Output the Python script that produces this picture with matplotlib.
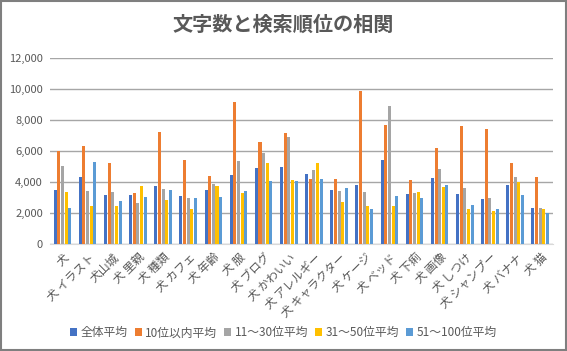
import matplotlib.pyplot as plt
import numpy as np
from matplotlib.patches import Rectangle

plt.rcParams['font.family'] = ['Noto Sans CJK JP', 'DejaVu Sans']

categories = ['犬', '犬 イラスト', '犬山城', '犬 里親', '犬 種類', '犬 カフェ', '犬 年齢', '犬 服',
              '犬 ブログ', '犬 かわいい', '犬 アレルギー', '犬 キャラクター', '犬 ケージ', '犬 ベッド',
              '犬 下痢', '犬 画像', '犬 しつけ', '犬 シャンプー', '犬 バナナ', '犬 猫']

series_names = ['全体平均', '10位以内平均', '11～30位平均', '31～50位平均', '51～100位平均']

avg_all = [3460, 4320, 3120, 3120, 3760, 3070, 3480, 4470, 4900, 4950,
           4520, 3460, 3780, 5420, 3200, 4260, 3200, 2920, 3810, 2340]
avg_top10 = [5960, 6320, 5220, 3290, 7220, 5420, 4390, 9120, 6580, 7160,
             4190, 4190, 9870, 7650, 4110, 6150, 7610, 7370, 5220, 4280]
avg_11_30 = [5050, 3420, 3350, 2640, 3550, 2990, 3870, 5310, 5870, 6860,
             4790, 3380, 3330, 8880, 3250, 4820, 3610, 2990, 4280, 2320]
avg_31_50 = [3330, 2430, 2430, 3720, 2860, 2280, 3760, 3250, 5220, 4130,
             5180, 2730, 2430, 2470, 3350, 3680, 2260, 2130, 4000, 2240]
avg_51_100 = [2340, 5290, 2770, 3030, 3480, 2950, 3050, 3420, 4040, 4040,
              4190, 3630, 2240, 3070, 2950, 3810, 2520, 2280, 3120, 2020]

series = [avg_all, avg_top10, avg_11_30, avg_31_50, avg_51_100]
colors = ['#4472C4', '#ED7D31', '#A5A5A5', '#FFC000', '#5B9BD5']

fig = plt.figure(figsize=(5.67, 3.51), dpi=100)
ax = fig.add_axes([0.088, 0.305, 0.887, 0.531])

x = np.arange(len(categories))
step = 0.145
for i, (vals, name, col) in enumerate(zip(series, series_names, colors)):
    ax.bar(x + (i - 2) * step, vals, 0.12, color=col, label=name, zorder=3)

ax.set_xlim(-0.5, len(categories) - 0.5)
ax.set_ylim(0, 12000)
ax.set_yticks(range(0, 12001, 2000))
ax.set_yticklabels([f'{v:,}' for v in range(0, 12001, 2000)], fontsize=8, color='#595959')
ax.yaxis.grid(True, color='#A6A6A6', linewidth=1, zorder=0)
ax.set_xticks(x)
ax.set_xticklabels(categories, rotation=45, ha='right', rotation_mode='anchor',
                   fontsize=8.5, color='#595959')
ax.tick_params(length=0, pad=5)
for s in ['top', 'right', 'left']:
    ax.spines[s].set_visible(False)
ax.spines['bottom'].set_color('#D9D9D9')

fig.suptitle('文字数と検索順位の相関', y=0.962, fontsize=14.5, fontweight='bold', color='#595959')

leg = fig.legend(loc='center', bbox_to_anchor=(0.5, 0.052), ncol=5, frameon=False,
                 fontsize=8.5, handlelength=0.6, handleheight=0.6, handletextpad=0.3, columnspacing=0.6)
for t in leg.get_texts():
    t.set_color('#595959')

fig.patches.append(Rectangle((0.002, 0.003), 0.996, 0.994, transform=fig.transFigure,
                             fill=False, edgecolor='#7F7F7F', linewidth=1.5))

fig.savefig('out.png', dpi=100)
